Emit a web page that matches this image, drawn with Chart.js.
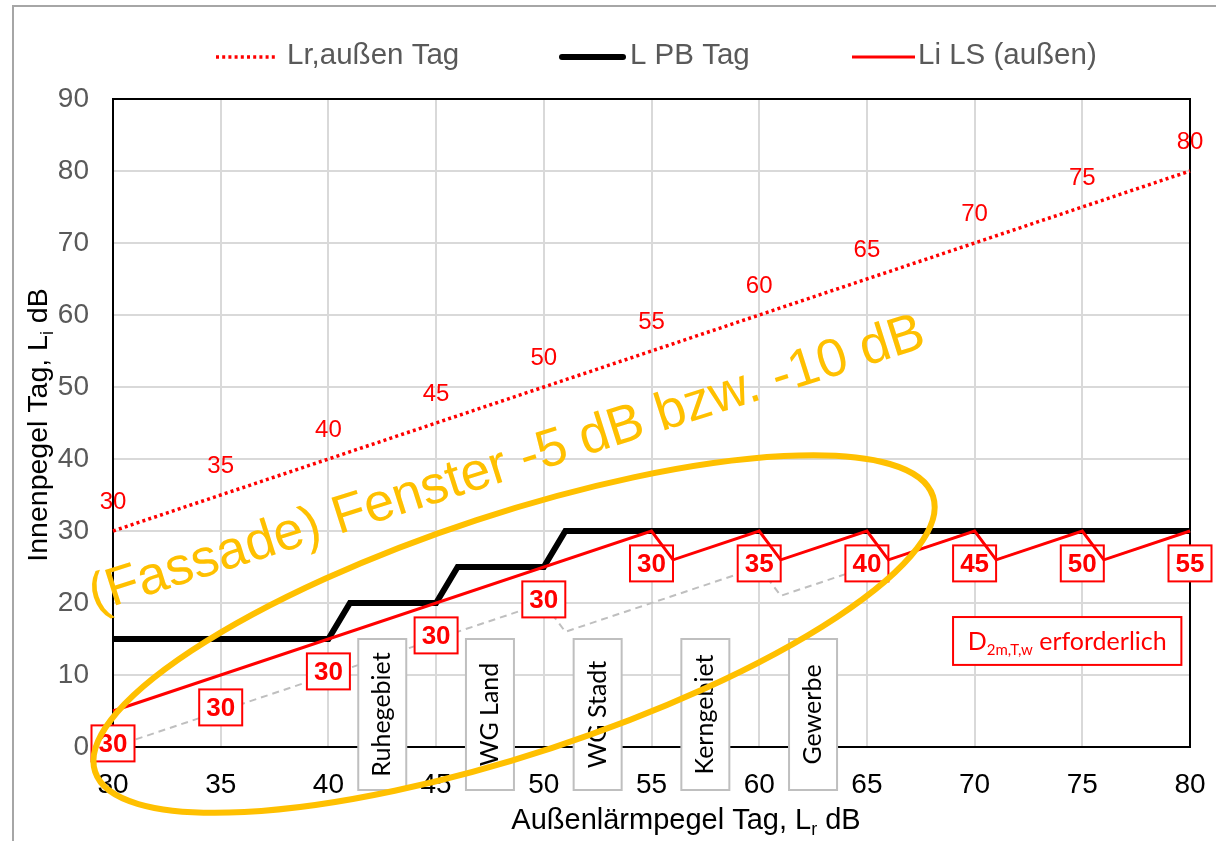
<!DOCTYPE html>
<html><head><meta charset="utf-8">
<script src="https://cdn.jsdelivr.net/npm/chart.js@4/dist/chart.umd.min.js"></script>
<style>html,body{margin:0;padding:0;background:#fff;overflow:hidden}canvas{display:block}</style>
</head><body>
<canvas id="c" width="1216" height="841"></canvas>
<script>
// ---- data ----
const lrX = [30, 35, 40, 45, 50, 55, 60, 65, 70, 75, 80];
const lrY = [30, 35, 40, 45, 50, 55, 60, 65, 70, 75, 80];
const lrLabels = ['30', '35', '40', '45', '50', '55', '60', '65', '70', '75', '80'];

const pbX = [30, 40, 41, 45, 46, 50, 51, 80];
const pbY = [15, 15, 20, 20, 25, 25, 30, 30];

const liX = [30, 55, 56, 60, 61, 65, 66, 70, 71, 75, 76, 80];
const liY = [5, 30, 26, 30, 26, 30, 26, 30, 26, 30, 26, 30];

const grX = [30, 50, 51, 60, 61, 70, 71, 75, 76, 80];
const grY = [0, 20, 16, 25, 21, 30, 26, 30, 26, 30];

const dX = [30, 35, 40, 45, 50, 55, 60, 65, 70, 75, 80];
const dY = [0.5, 5.5, 10.5, 15.5, 20.5, 25.5, 25.5, 25.5, 25.5, 25.5, 25.5];
const dText = ['30', '30', '30', '30', '30', '30', '35', '40', '45', '50', '55'];

const zoneX = [42.5, 47.5, 52.5, 57.5, 62.5];
const zoneNames = ['Ruhegebiet', 'WG Land', 'WG Stadt', 'Kerngebiet', 'Gewerbe'];
const zoneTop = 15;

const legendNames = ['Lr,außen Tag', 'L PB Tag', 'Li LS (außen)'];
const orangeText = '(Fassade) Fenster -5 dB bzw. -10 dB';

// ---- helpers ----
const FONT = "'Liberation Sans', Arial, sans-serif";
const CAL = "Lato, 'Liberation Sans', sans-serif";
const RED = '#FF0000';
const GOLD = '#FFC000';
function pts(xs, ys) { return xs.map((x, i) => ({ x: x, y: ys[i] })); }

function drawRich(ctx, parts, x, y, align) {
  let total = 0;
  parts.forEach(p => { ctx.font = p.font; p.w = ctx.measureText(p.t).width; total += p.w; });
  let cx = align === 'center' ? x - total / 2 : x;
  parts.forEach(p => { ctx.font = p.font; ctx.fillText(p.t, cx, y + (p.dy || 0)); cx += p.w; });
}

const deco = {
  id: 'deco',
  beforeDraw(chart) {
    const ctx = chart.ctx;
    ctx.save();
    ctx.fillStyle = '#fff';
    ctx.fillRect(0, 0, chart.width, chart.height);
    ctx.strokeStyle = '#a6a6a6';
    ctx.lineWidth = 2;
    ctx.strokeRect(13, 6, 1400, 1000);
    ctx.restore();
  },
  beforeDatasetsDraw(chart) {
    const ctx = chart.ctx, a = chart.chartArea;
    ctx.save();
    ctx.strokeStyle = '#000';
    ctx.lineWidth = 2;
    ctx.strokeRect(a.left, a.top, a.right - a.left, a.bottom - a.top);
    ctx.restore();
  },
  afterDatasetDraw(chart, args) {
    if (args.index !== 3) return;
    const ctx = chart.ctx, xs = chart.scales.x, ys = chart.scales.y;
    ctx.save();
    dX.forEach((xv, i) => {
      const cx = xs.getPixelForValue(xv), cy = ys.getPixelForValue(dY[i]);
      const w = 43, h = 36;
      ctx.fillStyle = '#fff';
      ctx.fillRect(cx - w / 2, cy - h / 2, w, h);
      ctx.strokeStyle = RED;
      ctx.lineWidth = 2;
      ctx.strokeRect(cx - w / 2, cy - h / 2, w, h);
      ctx.fillStyle = RED;
      ctx.font = 'bold 26px ' + FONT;
      ctx.textAlign = 'center';
      ctx.textBaseline = 'middle';
      ctx.fillText(dText[i], cx, cy + 1);
    });
    ctx.restore();
  },
  afterDatasetsDraw(chart) {
    const ctx = chart.ctx, xs = chart.scales.x, ys = chart.scales.y;
    ctx.save();
    // Lr labels
    ctx.fillStyle = RED;
    ctx.font = '24px ' + FONT;
    ctx.textAlign = 'center';
    ctx.textBaseline = 'middle';
    lrX.forEach((xv, i) => {
      ctx.fillText(lrLabels[i], xs.getPixelForValue(xv), ys.getPixelForValue(lrY[i]) - 29);
    });
    // zone boxes
    const bottom = ys.getPixelForValue(0) + 43;
    zoneX.forEach((xv, i) => {
      const cx = xs.getPixelForValue(xv), top = ys.getPixelForValue(zoneTop);
      const w = 48;
      ctx.fillStyle = '#fff';
      ctx.fillRect(cx - w / 2, top, w, bottom - top);
      ctx.strokeStyle = '#bfbfbf';
      ctx.lineWidth = 2;
      ctx.strokeRect(cx - w / 2, top, w, bottom - top);
      ctx.save();
      ctx.translate(cx, (top + bottom) / 2);
      ctx.rotate(-Math.PI / 2);
      ctx.fillStyle = '#000';
      ctx.font = '25px ' + CAL;
      ctx.textAlign = 'center';
      ctx.textBaseline = 'middle';
      ctx.fillText(zoneNames[i], 0, 0);
      ctx.restore();
    });
    // D2m box
    const bl = xs.getPixelForValue(69), br = xs.getPixelForValue(79.6);
    const bt = ys.getPixelForValue(18.05), bb = ys.getPixelForValue(11.4);
    ctx.fillStyle = '#fff';
    ctx.fillRect(bl, bt, br - bl, bb - bt);
    ctx.strokeStyle = RED;
    ctx.lineWidth = 2;
    ctx.strokeRect(bl, bt, br - bl, bb - bt);
    ctx.fillStyle = RED;
    ctx.textAlign = 'left';
    ctx.textBaseline = 'alphabetic';
    drawRich(ctx, [
      { t: 'D', font: '25px ' + CAL },
      { t: '2m,T,w', font: '15px ' + CAL, dy: 5 },
      { t: ' erforderlich', font: '25px ' + CAL }
    ], (bl + br) / 2, bb - 15, 'center');
    ctx.restore();
  },
  afterDraw(chart) {
    const ctx = chart.ctx, xs = chart.scales.x, ys = chart.scales.y;
    ctx.save();
    // ellipse
    const ex = xs.getPixelForValue(48.62), ey = ys.getPixelForValue(15.69);
    ctx.save();
    ctx.translate(ex, ey);
    ctx.rotate(-18.2 * Math.PI / 180);
    ctx.beginPath();
    ctx.ellipse(0, 0, 441, 120, 0, 0, Math.PI * 2);
    ctx.strokeStyle = GOLD;
    ctx.lineWidth = 6;
    ctx.stroke();
    ctx.restore();
    // orange text
    ctx.save();
    ctx.translate(xs.getPixelForValue(29.16), ys.getPixelForValue(18.75));
    ctx.rotate(-17.7 * Math.PI / 180);
    ctx.fillStyle = GOLD;
    ctx.font = '53.5px ' + FONT;
    ctx.textAlign = 'left';
    ctx.textBaseline = 'alphabetic';
    ctx.fillText(orangeText, 0, 0);
    ctx.restore();
    // legend
    ctx.font = '29.5px ' + FONT;
    ctx.textBaseline = 'middle';
    ctx.textAlign = 'left';
    ctx.lineCap = 'butt';
    ctx.strokeStyle = RED; ctx.lineWidth = 3.5; ctx.setLineDash([3, 3.2]);
    ctx.beginPath(); ctx.moveTo(216, 57); ctx.lineTo(276, 57); ctx.stroke();
    ctx.setLineDash([]);
    ctx.fillStyle = '#595959';
    ctx.fillText(legendNames[0], 287, 56);
    ctx.strokeStyle = '#000'; ctx.lineWidth = 6; ctx.lineCap = 'round';
    ctx.beginPath(); ctx.moveTo(562, 57); ctx.lineTo(623, 57); ctx.stroke();
    ctx.fillText(legendNames[1], 630, 56);
    ctx.strokeStyle = RED; ctx.lineWidth = 3; ctx.lineCap = 'butt';
    ctx.beginPath(); ctx.moveTo(852, 57); ctx.lineTo(915, 57); ctx.stroke();
    ctx.fillText(legendNames[2], 918, 56);
    // axis titles
    ctx.fillStyle = '#000';
    ctx.textBaseline = 'alphabetic';
    ctx.save();
    ctx.translate(47, (chart.chartArea.top + chart.chartArea.bottom) / 2 + 2);
    ctx.rotate(-Math.PI / 2);
    drawRich(ctx, [
      { t: 'Innenpegel Tag, L', font: '28.5px ' + FONT },
      { t: 'i', font: '18px ' + FONT, dy: 6 },
      { t: ' dB', font: '28.5px ' + FONT }
    ], 0, 0, 'center');
    ctx.restore();
    drawRich(ctx, [
      { t: 'Außenlärmpegel Tag, L', font: '29px ' + FONT },
      { t: 'r', font: '18px ' + FONT, dy: 6 },
      { t: ' dB', font: '29px ' + FONT }
    ], 686, 829, 'center');
    ctx.restore();
  }
};

const gridOpts = { color: '#d9d9d9', lineWidth: 2, drawTicks: false };

new Chart(document.getElementById('c'), {
  type: 'line',
  data: {
    datasets: [
      { label: legendNames[0], data: pts(lrX, lrY), borderColor: RED, borderWidth: 3.5, borderDash: [3, 3.2], pointRadius: 0, tension: 0, order: 0, clip: false },
      { label: legendNames[2], data: pts(liX, liY), borderColor: RED, borderWidth: 3, pointRadius: 0, tension: 0, order: 1, clip: false },
      { label: legendNames[1], data: pts(pbX, pbY), borderColor: '#000', borderWidth: 6, pointRadius: 0, tension: 0, order: 2, clip: false },
      { label: 'grau', data: pts(grX, grY), borderColor: '#bfbfbf', borderWidth: 2, borderDash: [7, 5], pointRadius: 0, tension: 0, order: 3, clip: false }
    ]
  },
  options: {
    responsive: false,
    animation: false,
    devicePixelRatio: 1,
    layout: { padding: { left: 13, top: 99, right: 26, bottom: 0 } },
    plugins: { legend: { display: false }, tooltip: { enabled: false } },
    scales: {
      x: {
        type: 'linear', min: 30, max: 80,
        ticks: { stepSize: 5, color: '#000', font: { size: 28, family: FONT, lineHeight: 2 }, padding: 10, maxRotation: 0, autoSkip: false },
        grid: gridOpts,
        border: { color: '#000', width: 2 },
        afterFit(s) { s.height = 94; }
      },
      y: {
        type: 'linear', min: 0, max: 90,
        ticks: { stepSize: 10, color: '#595959', font: { size: 28, family: FONT }, padding: 24 },
        grid: gridOpts,
        border: { color: '#000', width: 2 },
        afterFit(s) { s.width = 100; }
      }
    }
  },
  plugins: [deco]
});
</script>
</body></html>
